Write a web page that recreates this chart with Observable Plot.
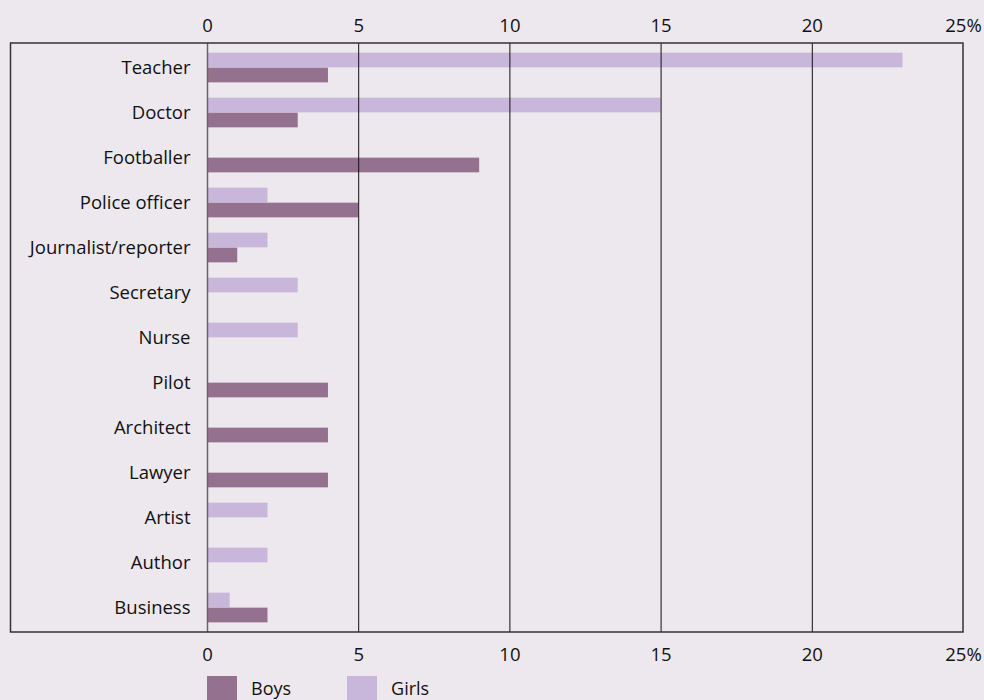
<!DOCTYPE html>
<html><head><meta charset="utf-8">
<script src="https://cdn.jsdelivr.net/npm/d3@7"></script>
<script src="https://cdn.jsdelivr.net/npm/@observablehq/plot@0.6"></script>
<style>
html,body{margin:0;padding:0;background:#ede8ee;}
#wrap{position:relative;width:984px;height:700px;overflow:hidden;font-family:"Open Sans",sans-serif;color:#111;}
#chart svg{display:block;}
.legend{position:absolute;left:207px;top:676px;display:flex;align-items:center;font-size:18px;line-height:22px;}
.legend .item{display:flex;align-items:center;}
.legend .sw{width:30px;height:24px;display:inline-block;margin-right:14px;}
</style></head><body>
<div id="wrap"><div id="chart"></div><div class="legend" id="legend"></div></div>
<script>
const categories = ["Teacher","Doctor","Footballer","Police officer","Journalist/reporter","Secretary","Nurse","Pilot","Architect","Lawyer","Artist","Author","Business"];
const girls = [23, 15, 0, 2, 2, 3, 3, 0, 0, 0, 2, 2, 0.75];
const boys  = [4, 3, 9, 5, 1, 0, 0, 4, 4, 4, 0, 0, 2];
const xTicks = [0, 5, 10, 15, 20, 25];
const xTickLabels = ["0", "5", "10", "15", "20", "25%"];
const seriesNames = ["Boys", "Girls"];
const seriesColors = ["#94718e", "#c8b7da"];

const W = 984, H = 672, mT = 43, mB = 40, mL = 207, mR = 21;
const band = (H - mT - mB) / categories.length;
const barH = 15;
const outer = (band - 2 * barH) / 2;

const girlsData = categories.map((c, i) => ({category: c, value: girls[i]})).filter(d => d.value > 0);
const boysData = categories.map((c, i) => ({category: c, value: boys[i]})).filter(d => d.value > 0);
const fmt = d => xTickLabels[xTicks.indexOf(d)];

const plot = Plot.plot({
  width: W, height: H,
  marginTop: mT, marginBottom: mB, marginLeft: mL, marginRight: mR,
  style: {background: "transparent", fontFamily: "'Open Sans', sans-serif", fontSize: "18.5px", color: "#111"},
  x: {domain: [0, 25]},
  y: {domain: categories, padding: 0},
  marks: [
    Plot.barX(girlsData, {x: "value", y: "category", fill: seriesColors[1], insetTop: outer, insetBottom: outer + barH}),
    Plot.barX(boysData, {x: "value", y: "category", fill: seriesColors[0], insetTop: outer + barH, insetBottom: outer}),
    Plot.ruleX([5, 10, 15, 20], {stroke: "#111", strokeWidth: 1}),
    Plot.ruleX([0], {stroke: "#666", strokeWidth: 1.5}),
    Plot.axisX({anchor: "top", ticks: xTicks, tickFormat: fmt, tickSize: 0, tickPadding: 12, label: null}),
    Plot.axisX({anchor: "bottom", ticks: xTicks, tickFormat: fmt, tickSize: 0, tickPadding: 15, label: null}),
    Plot.axisY({tickSize: 0, tickPadding: 17, label: null})
  ]
});
document.getElementById("chart").appendChild(plot);

// outer frame extending left to enclose category labels
const xs = plot.scale("x");
const svg = d3.select(plot);
svg.append("rect")
  .attr("x", 10.5).attr("y", mT)
  .attr("width", xs.apply(25) - 10.5).attr("height", H - mT - mB)
  .attr("fill", "none").attr("stroke", "#333").attr("stroke-width", 1.5);

const lg = d3.select("#legend");
seriesNames.forEach((n, i) => {
  const it = lg.append("div").attr("class", "item").style("margin-right", i === 0 ? "56px" : "0");
  it.append("span").attr("class", "sw").style("background", seriesColors[i]);
  it.append("span").text(n);
});
</script>
</body></html>
